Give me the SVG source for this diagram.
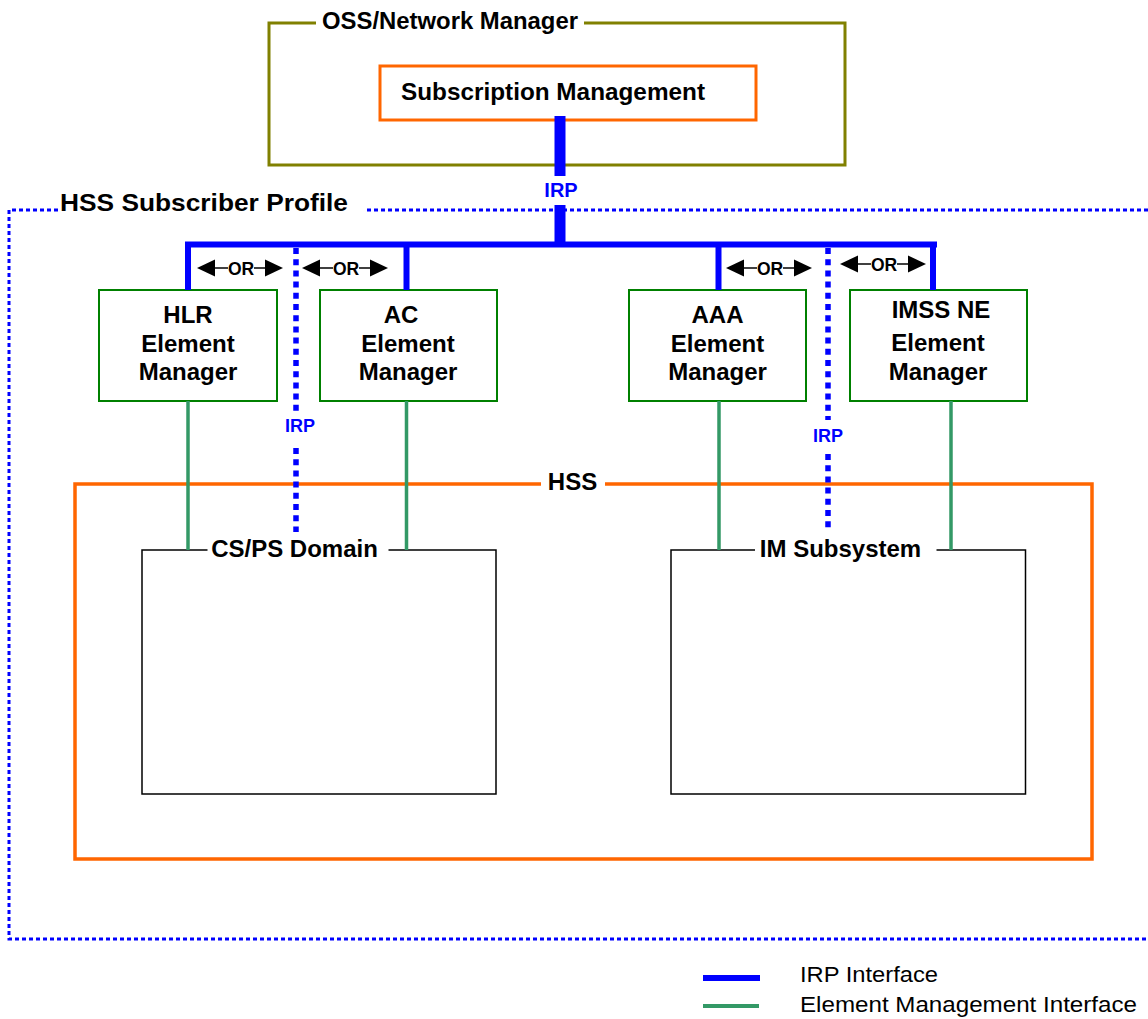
<svg xmlns="http://www.w3.org/2000/svg" xmlns:xlink="http://www.w3.org/1999/xlink" width="1148" height="1019" viewBox="0 0 1148 1019">
<style>
  .b { font-family: "Liberation Sans", Arial, sans-serif; font-weight: bold; fill: #000; }
  .lbl { font-size: 24px; }
  .irp { font-family: "Liberation Sans", Arial, sans-serif; font-weight: bold; fill: #0000FF; }
  .leg { font-family: "Liberation Sans", Arial, sans-serif; font-size: 22px; fill: #000; }
  .node { fill: #fff; stroke: #008000; stroke-width: 2; }
  .dom { fill: #fff; stroke: #000; stroke-width: 1.5; }
  .irpline { stroke: #0000FF; fill: none; }
  .dotirp { stroke: #0000FF; stroke-width: 5.5; stroke-dasharray: 6 5.2; fill: none; }
  .em { stroke: #339966; stroke-width: 3.5; fill: none; }
</style>
<defs>
  <g id="orArrow">
    <polygon points="0,0 18,-8.5 18,8.5" fill="#000"/>
    <polygon points="86,0 68,-8.5 68,8.5" fill="#000"/>
    <line x1="18" y1="0" x2="31" y2="0" stroke="#000" stroke-width="1.5"/>
    <line x1="57" y1="0" x2="68" y2="0" stroke="#000" stroke-width="1.5"/>
    <text x="44" y="6.5" class="b" font-size="17.5" text-anchor="middle">OR</text>
  </g>
</defs>
<rect width="1148" height="1019" fill="#fff"/>

<!-- HSS Subscriber Profile container -->
<g id="hss-subscriber-profile">
  <path d="M58 210 H9 V939 H1150" stroke="#0000FF" stroke-width="3" stroke-dasharray="4 3" fill="none"/>
  <path d="M367 210 H1150" stroke="#0000FF" stroke-width="3" stroke-dasharray="4 3" fill="none"/>
  <text x="60" y="211" class="b lbl" textLength="288" lengthAdjust="spacingAndGlyphs">HSS Subscriber Profile</text>
</g>

<!-- OSS/Network Manager -->
<g id="oss-network-manager">
  <path d="M316 23 H269 V165 H845 V23 H584" stroke="#808000" stroke-width="3" fill="none"/>
  <text x="322" y="29" class="b lbl" textLength="256" lengthAdjust="spacingAndGlyphs">OSS/Network Manager</text>
</g>

<g id="subscription-management">
  <rect x="380" y="66" width="376" height="54" fill="#fff" stroke="#FF6600" stroke-width="3"/>
  <text x="401" y="100" class="b lbl" textLength="304" lengthAdjust="spacingAndGlyphs">Subscription Management</text>
</g>

<!-- HSS -->
<g id="hss">
  <path d="M541 484 H75 V859 H1092 V484 H605" stroke="#FF6600" stroke-width="3.5" fill="none"/>
  <text x="572.5" y="489.5" class="b lbl" text-anchor="middle">HSS</text>
</g>

<g id="cs-ps-domain">
  <path d="M207.5 550 H142 V794 H496 V550 H388.5" class="dom"/>
  <text x="294.5" y="557" class="b lbl" text-anchor="middle">CS/PS Domain</text>
</g>

<g id="im-subsystem">
  <path d="M755 550 H671 V794 H1025.5 V550 H936.5" class="dom"/>
  <text x="840.5" y="557" class="b lbl" text-anchor="middle">IM Subsystem</text>
</g>

<!-- Element Managers -->
<g id="hlr-em">
  <rect x="99" y="290" width="178" height="111" class="node"/>
  <text x="188" y="323" class="b lbl" text-anchor="middle">HLR</text>
  <text x="188" y="351.5" class="b lbl" text-anchor="middle">Element</text>
  <text x="188" y="380" class="b lbl" text-anchor="middle">Manager</text>
</g>
<g id="ac-em">
  <rect x="320" y="290" width="177" height="111" class="node"/>
  <text x="401" y="323" class="b lbl" text-anchor="middle">AC</text>
  <text x="408" y="351.5" class="b lbl" text-anchor="middle">Element</text>
  <text x="408" y="380" class="b lbl" text-anchor="middle">Manager</text>
</g>
<g id="aaa-em">
  <rect x="629" y="290" width="177" height="111" class="node"/>
  <text x="717.5" y="323" class="b lbl" text-anchor="middle">AAA</text>
  <text x="717.5" y="351.5" class="b lbl" text-anchor="middle">Element</text>
  <text x="717.5" y="380" class="b lbl" text-anchor="middle">Manager</text>
</g>
<g id="imss-em">
  <rect x="850" y="290" width="177" height="111" class="node"/>
  <text x="941" y="318" class="b lbl" text-anchor="middle">IMSS NE</text>
  <text x="938" y="351" class="b lbl" text-anchor="middle">Element</text>
  <text x="938" y="380" class="b lbl" text-anchor="middle">Manager</text>
</g>

<!-- Connectors -->
<g id="connectors">
  <!-- IRP trunk -->
  <line x1="560" y1="116" x2="560" y2="176" class="irpline" stroke-width="11"/>
  <text x="561" y="197" class="irp" font-size="20" text-anchor="middle">IRP</text>
  <line x1="560" y1="205" x2="560" y2="245" class="irpline" stroke-width="11"/>
  <line x1="185" y1="244.5" x2="937" y2="244.5" class="irpline" stroke-width="6"/>
  <line x1="188" y1="244" x2="188" y2="290" class="irpline" stroke-width="6"/>
  <line x1="406.5" y1="244" x2="406.5" y2="290" class="irpline" stroke-width="6"/>
  <line x1="718.5" y1="244" x2="718.5" y2="290" class="irpline" stroke-width="6"/>
  <line x1="933" y1="244" x2="933" y2="290" class="irpline" stroke-width="6"/>

  <!-- dotted IRP alternatives -->
  <line x1="296" y1="248" x2="296" y2="414" class="dotirp"/>
  <text x="300" y="432" class="irp" font-size="18" text-anchor="middle">IRP</text>
  <line x1="296" y1="448" x2="296" y2="532" class="dotirp"/>
  <line x1="828" y1="248" x2="828" y2="420" class="dotirp"/>
  <text x="828" y="442" class="irp" font-size="18" text-anchor="middle">IRP</text>
  <line x1="828" y1="454" x2="828" y2="532" class="dotirp"/>

  <!-- element management interfaces -->
  <line x1="188" y1="401" x2="188" y2="550" class="em"/>
  <line x1="406.5" y1="401" x2="406.5" y2="550" class="em"/>
  <line x1="719" y1="401" x2="719" y2="550" class="em"/>
  <line x1="951" y1="401" x2="951" y2="550" class="em"/>

  <!-- OR arrows -->
  <use xlink:href="#orArrow" href="#orArrow" x="197" y="268"/>
  <use xlink:href="#orArrow" href="#orArrow" x="302" y="268"/>
  <use xlink:href="#orArrow" href="#orArrow" x="726" y="268"/>
  <use xlink:href="#orArrow" href="#orArrow" x="840" y="264"/>
</g>

<!-- Legend -->
<g id="legend">
  <line x1="703" y1="978" x2="760" y2="978" stroke="#0000FF" stroke-width="6"/>
  <text x="800" y="982" class="leg" textLength="138" lengthAdjust="spacingAndGlyphs">IRP Interface</text>
  <line x1="703" y1="1006" x2="759" y2="1006" stroke="#339966" stroke-width="4"/>
  <text x="800" y="1012" class="leg" textLength="337" lengthAdjust="spacingAndGlyphs">Element Management Interface</text>
</g>
</svg>
